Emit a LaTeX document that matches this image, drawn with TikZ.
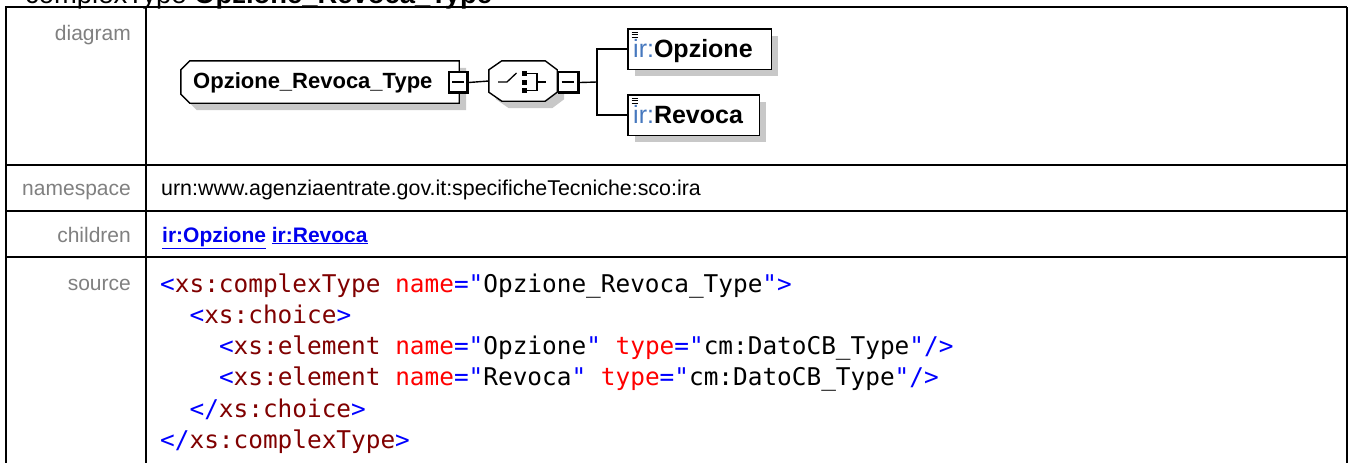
\documentclass[tikz,border=0pt]{standalone}
\usepackage{fontspec}
\setmainfont{Liberation Sans}
\newfontfamily\codefont{DejaVu Sans Mono}
\definecolor{xblue}{RGB}{0,0,255}
\definecolor{xdred}{RGB}{128,0,0}
\definecolor{xred}{RGB}{255,0,0}
\definecolor{lblgray}{RGB}{128,128,128}
\definecolor{shadowgray}{RGB}{200,200,200}
\definecolor{nsblue}{RGB}{70,120,190}
\definecolor{linkblue}{RGB}{0,0,238}
\tikzset{
  tableline/.style={line width=2pt, black},
  lbl/.style={anchor=base east, inner sep=0pt, text=lblgray, font=\fontsize{21}{25}\selectfont},
  val/.style={anchor=base west, inner sep=0pt, font=\fontsize{21.4}{25}\selectfont},
  codeline/.style={anchor=base west, inner sep=0pt, font=\codefont\fontsize{24.4}{28}\selectfont},
  boxline/.style={line width=1.4pt, black},
  shadowfill/.style={fill=shadowgray},
  anchorbox/.style={draw=none, inner sep=0pt},
  childtext/.style={anchor=base west, inner sep=0pt, font=\fontsize{25}{29}\selectfont},
  conn/.style={line width=1.4pt, black},
}
\newcommand{\cb}[1]{\textcolor{xblue}{#1}}
\newcommand{\cd}[1]{\textcolor{xdred}{#1}}
\newcommand{\cred}[1]{\textcolor{xred}{#1}}
\begin{document}
\begin{tikzpicture}[x=1pt,y=-1pt]
\useasboundingbox (0,0) rectangle (1348,463);
\clip (0,0) rectangle (1348,463);
\fill[white] (0,0) rectangle (1348,463);

% title (cut off at top)
\node[anchor=base west, inner sep=0pt, font=\fontsize{27.4}{31}\selectfont] (title) at (25,3) {complexType \textbf{Opzione\_Revoca\_Type}};

% table lines
\draw[tableline] (5,7) -- (1347,7);
\draw[tableline] (6,7) -- (6,463);
\draw[tableline] (146,7) -- (146,463);
\draw[tableline] (1347,7) -- (1347,463);
\draw[tableline] (6,165) -- (1347,165);
\draw[tableline] (6,211) -- (1347,211);
\draw[tableline] (6,257) -- (1347,257);

% labels
\node[lbl] (ldiagram) at (131,40) {diagram};
\node[lbl] (lns) at (131,195) {namespace};
\node[lbl] (lchildren) at (131,242) {children};
\node[lbl] (lsource) at (131,290) {source};

% values
\node[val] (vns) at (161,195) {urn:www.agenziaentrate.gov.it:specificheTecniche:sco:ira};
\node[val, font=\fontsize{21}{25}\selectfont, text=linkblue] (vchildren) at (162,242) {\textbf{\underline{ir:Opzione}} \textbf{\underline{ir:Revoca}}};

% source code
\node[codeline] (c1) at (160,292) {\cb{<}\cd{xs:complexType} \cred{name}\cb{="}Opzione\_Revoca\_Type\cb{">}};
\node[codeline] (c2) at (189.4,323.3) {\cb{<}\cd{xs:choice}\cb{>}};
\node[codeline] (c3) at (218.8,354.6) {\cb{<}\cd{xs:element} \cred{name}\cb{="}Opzione\cb{"} \cred{type}\cb{="}cm:DatoCB\_Type\cb{"/>}};
\node[codeline] (c4) at (218.8,385.9) {\cb{<}\cd{xs:element} \cred{name}\cb{="}Revoca\cb{"} \cred{type}\cb{="}cm:DatoCB\_Type\cb{"/>}};
\node[codeline] (c5) at (189.4,417.2) {\cb{</}\cd{xs:choice}\cb{>}};
\node[codeline] (c6) at (160,448.5) {\cb{</}\cd{xs:complexType}\cb{>}};

% ---------- diagram ----------
\node[anchorbox, minimum width=278pt, minimum height=42pt] (main) at (320,82) {};
\node[anchorbox, minimum width=20pt, minimum height=22pt] (btnA) at (458.5,82.5) {};
\node[anchorbox, minimum width=68pt, minimum height=40pt] (choice) at (523,81) {};
\node[anchorbox, minimum width=22pt, minimum height=22pt] (btnB) at (569,82.5) {};
\node[anchorbox, minimum width=143pt, minimum height=40pt] (opz) at (699.5,49) {};
\node[anchorbox, minimum width=131pt, minimum height=40pt] (rev) at (693.5,115) {};
\coordinate (fork) at (597,82);

% shadows
\fill[shadowfill] ([shift={(16,7)}]main.north west) -- ([shift={(7,7)}]main.north east) -- ([shift={(7,7)}]main.south east) -- ([shift={(16,7)}]main.south west) -- ([shift={(7,-2)}]main.south west) -- ([shift={(7,16)}]main.north west) -- cycle;
\fill[shadowfill] ([shift={(20,7)}]choice.north west) -- ([shift={(-5,7)}]choice.north east) -- ([shift={(7,16)}]choice.north east) -- ([shift={(7,-2)}]choice.south east) -- ([shift={(-5,7)}]choice.south east) -- ([shift={(20,7)}]choice.south west) -- ([shift={(7,-2)}]choice.south west) -- ([shift={(7,16)}]choice.north west) -- cycle;
\fill[shadowfill] ([shift={(7,7)}]opz.north west) rectangle ([shift={(7,7)}]opz.south east);
\fill[shadowfill] ([shift={(7,7)}]rev.north west) rectangle ([shift={(7,7)}]rev.south east);

% main complexType box
\filldraw[boxline, fill=white] ([shift={(9,0)}]main.north west) -- (main.north east) -- (main.south east) -- ([shift={(9,0)}]main.south west) -- ([shift={(0,-9)}]main.south west) -- ([shift={(0,9)}]main.north west) -- cycle;
\node[anchor=base west, inner sep=0pt, font=\bfseries\fontsize{22}{26}\selectfont] (mainlabel) at (193,88) {Opzione\_Revoca\_Type};

% connectors
\draw[conn] (btnA.east) -- (choice.west);
\draw[conn] (btnB.east) -- (fork);
\draw[conn] (fork) |- (opz.west);
\draw[conn] (fork) |- (rev.west);

% button A
\fill[black] (btnA.north west) rectangle (btnA.south east);
\fill[white] ([shift={(1.5,1.5)}]btnA.north west) rectangle ([shift={(-3.2,-3)}]btnA.south east);
\draw[line width=1.3pt] (452,82) -- (463.5,82);

% choice compositor
\filldraw[boxline, fill=white] ([shift={(13,0)}]choice.north west) -- ([shift={(-12,0)}]choice.north east) -- ([shift={(0,9)}]choice.north east) -- ([shift={(0,-9)}]choice.south east) -- ([shift={(-12,0)}]choice.south east) -- ([shift={(13,0)}]choice.south west) -- ([shift={(0,-9)}]choice.south west) -- ([shift={(0,9)}]choice.north west) -- cycle;
% choice icon
\draw[line width=1.3pt] (498,82) -- (507,82) -- (516.5,73);
\fill[black] (521.5,71) rectangle (526.5,76);
\fill[black] (521.5,79.5) rectangle (526.5,84.5);
\fill[black] (521.5,88) rectangle (526.5,93);
\draw[line width=1.3pt] (526.5,73.5) -- (537,73.5) -- (537,90.5) -- (526.5,90.5);
\draw[line width=1.3pt] (537,82) -- (545.5,82);

% button B
\fill[black] (btnB.north west) rectangle (btnB.south east);
\fill[white] ([shift={(1.5,1.5)}]btnB.north west) rectangle ([shift={(-3.2,-3)}]btnB.south east);
\draw[line width=1.3pt] (561.5,82) -- (574,82);

% children
\filldraw[boxline, fill=white] (opz.north west) rectangle (opz.south east);
\filldraw[boxline, fill=white] (rev.north west) rectangle (rev.south east);
\foreach \dy in {0,2.4,4.8} {
  \draw[line width=1pt] (631.5,32.3+\dy) -- (638,32.3+\dy);
  \draw[line width=1pt] (631.5,98.3+\dy) -- (638,98.3+\dy);
}
\node[childtext] (opzlabel) at (633,57) {\textcolor{nsblue}{ir:}\textbf{Opzione}};
\node[childtext] (revlabel) at (633,123) {\textcolor{nsblue}{ir:}\textbf{Revoca}};
\end{tikzpicture}
\end{document}
